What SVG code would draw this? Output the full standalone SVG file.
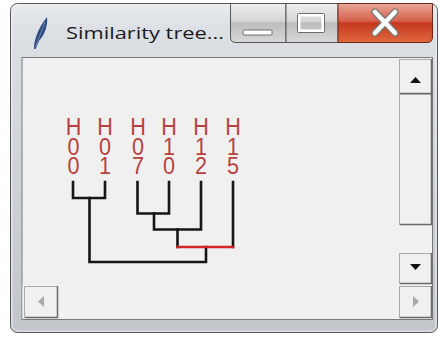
<svg xmlns="http://www.w3.org/2000/svg" width="439" height="337" viewBox="0 0 439 337">
  <defs>
    <linearGradient id="frameGrad" x1="0" y1="0" x2="0" y2="1">
      <stop offset="0" stop-color="#e9ebee"/>
      <stop offset="0.08" stop-color="#dcdfe3"/>
      <stop offset="0.5" stop-color="#cfd3d8"/>
      <stop offset="1" stop-color="#c2c6cb"/>
    </linearGradient>
    <linearGradient id="capGrad" x1="0" y1="0" x2="0" y2="1">
      <stop offset="0" stop-color="#eeeeee"/>
      <stop offset="0.45" stop-color="#d6d6d6"/>
      <stop offset="0.5" stop-color="#bdbdbd"/>
      <stop offset="1" stop-color="#d8d8d8"/>
    </linearGradient>
    <linearGradient id="closeGrad" x1="0" y1="0" x2="0" y2="1">
      <stop offset="0" stop-color="#eaa898"/>
      <stop offset="0.45" stop-color="#d5604a"/>
      <stop offset="0.5" stop-color="#c5381e"/>
      <stop offset="1" stop-color="#e0683e"/>
    </linearGradient>
    <pattern id="dither" width="2" height="2" patternUnits="userSpaceOnUse">
      <rect width="2" height="2" fill="#f8f8f8"/>
      <rect width="1" height="1" fill="#ebebeb"/>
      <rect x="1" y="1" width="1" height="1" fill="#ebebeb"/>
    </pattern>
    <style>
      .btn { fill: #f0f0f0; stroke: #a9a9a9; stroke-width: 1; }
      .btnEdge { fill: none; stroke: #6a6a6a; stroke-width: 1.5; }
      .label { font-family: "Liberation Sans", Arial, sans-serif; font-size: 24px; fill: #b8413e; text-anchor: middle; }
      .link { fill: none; stroke: #151515; stroke-width: 2.6; stroke-linecap: square; }
      .hot { fill: none; stroke: #d22424; stroke-width: 2.6; }
    </style>
  </defs>

  <rect width="439" height="337" fill="#ffffff"/>

  <!-- window frame -->
  <g id="window">
    <rect x="10.5" y="3.5" width="427" height="329" rx="7" fill="url(#frameGrad)" stroke="#5a5a5a"/>
    <rect x="12" y="5" width="424" height="326" rx="6" fill="none" stroke="#f4f5f7" stroke-opacity="0.8"/>
    <!-- quill icon -->
    <path d="M34 49 C 34 41, 37 30, 47 17 C 48 25, 45 34, 39 41 L 35.5 49 Z" fill="#2b4a7e"/>
    <path d="M35.5 47 L 45 22" stroke="#7f98c0" stroke-width="0.8" fill="none"/>
    <text x="66" y="38.5" font-family="'Open Sans', 'Noto Sans', sans-serif" font-size="17" fill="#1a1a1a" textLength="158" lengthAdjust="spacingAndGlyphs">Similarity tree...</text>

    <!-- caption buttons -->
    <path d="M230.5 3.5 H286 V42.5 H236 Q230.5 42.5 230.5 37 Z" fill="url(#capGrad)" stroke="#555"/>
    <rect x="243" y="30" width="29" height="5" rx="1" fill="#ffffff" stroke="#6e6e6e" stroke-width="1"/>
    <rect x="286" y="3.5" width="52" height="39" fill="url(#capGrad)" stroke="#555"/>
    <rect x="299" y="15" width="24" height="16" rx="1" fill="none" stroke="#ffffff" stroke-width="3"/>
    <rect x="297.5" y="13.5" width="27" height="19" rx="1" fill="none" stroke="#6e6e6e" stroke-width="1"/>
    <path d="M338 3.5 H432.5 V37 Q432.5 42.5 427 42.5 H338 Z" fill="url(#closeGrad)" stroke="#6a2a1e"/>
    <path d="M375 12 L 395 33 M 395 12 L 375 33" stroke="#7a7a7a" stroke-width="7" stroke-linecap="round"/>
    <path d="M375 12 L 395 33 M 395 12 L 375 33" stroke="#ffffff" stroke-width="4.5" stroke-linecap="round"/>

    <!-- client border -->
    <rect x="22" y="57.5" width="410.5" height="262" fill="#f0f0f0" stroke="#7a7a7a"/>
  </g>

  <!-- scrollbars -->
  <g id="vscroll">
    <rect x="399" y="58" width="33" height="227" fill="url(#dither)"/>
    <rect class="btn" x="399.5" y="59.5" width="32" height="34"/>
    <path class="btnEdge" d="M400 93.5 H431.5 V59"/>
    <path d="M410 83 L 421 83 L 415.5 77 Z" fill="#111"/>
    <rect class="btn" x="399.5" y="94.5" width="32" height="130"/>
    <path class="btnEdge" d="M400 224.5 H431.5 V94"/>
    <rect class="btn" x="399.5" y="253.5" width="32" height="30"/>
    <path class="btnEdge" d="M400 283.5 H431.5 V253"/>
    <path d="M410 264 L 421 264 L 415.5 270 Z" fill="#111"/>
  </g>
  <g id="hscroll">
    <rect x="22.5" y="285" width="376" height="33" fill="url(#dither)"/>
    <rect class="btn" x="24.5" y="286.5" width="33" height="31"/>
    <path class="btnEdge" d="M25 317.5 H57.5 V286"/>
    <path d="M44 296 L 44 307 L 38 301.5 Z" fill="#a8a8a8"/>
    <rect class="btn" x="399.5" y="286.5" width="32" height="31"/>
    <path class="btnEdge" d="M400 317.5 H431.5 V286"/>
    <path d="M413 296 L 413 307 L 419 301.5 Z" fill="#a8a8a8"/>
  </g>

  <!-- leaf labels, one character per row, narrowed horizontally -->
  <g id="H001" transform="translate(73.5 0) scale(0.9 1)"><text class="label" x="0" y="135.5">H</text><text class="label" x="0" y="155">0</text><text class="label" x="0" y="174.5">0</text></g>
  <g id="H011" transform="translate(105 0) scale(0.9 1)"><text class="label" x="0" y="135.5">H</text><text class="label" x="0" y="155">0</text><text class="label" x="0" y="174.5">1</text></g>
  <g id="H017" transform="translate(138 0) scale(0.9 1)"><text class="label" x="0" y="135.5">H</text><text class="label" x="0" y="155">0</text><text class="label" x="0" y="174.5">7</text></g>
  <g id="H102" transform="translate(169 0) scale(0.9 1)"><text class="label" x="0" y="135.5">H</text><text class="label" x="0" y="155">1</text><text class="label" x="0" y="174.5">0</text></g>
  <g id="H112" transform="translate(201 0) scale(0.9 1)"><text class="label" x="0" y="135.5">H</text><text class="label" x="0" y="155">1</text><text class="label" x="0" y="174.5">2</text></g>
  <g id="H115" transform="translate(233 0) scale(0.9 1)"><text class="label" x="0" y="135.5">H</text><text class="label" x="0" y="155">1</text><text class="label" x="0" y="174.5">5</text></g>

  <!-- dendrogram links -->
  <g id="links">
    <path class="link" d="M73 182 V198 H105 V182"/>
    <path class="link" d="M137.5 182 V213.5 H169 V182"/>
    <path class="link" d="M154 213.5 V229.5 H201 V182"/>
    <path class="link" d="M177.5 229.5 V247 M233 182 V247"/>
    <path class="link" d="M89.5 198 V262 H206 V247"/>
    <path class="hot" d="M176.2 247 H234.3"/>
  </g>
</svg>
